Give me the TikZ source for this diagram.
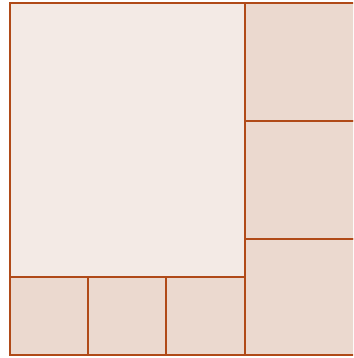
\documentclass[tikz,border=0pt]{standalone}
\definecolor{tileline}{HTML}{B04A18}
\definecolor{bigfill}{HTML}{F3EAE5}
\definecolor{smallfill}{HTML}{EBD9CF}
\tikzset{
  tile/.style={draw=tileline, line width=1.4pt, fill=smallfill},
  bigtile/.style={tile, fill=bigfill}
}
\begin{document}
\begin{tikzpicture}[x=1pt,y=-1pt]
\useasboundingbox (0,0) rectangle (353,358);
\clip (0,0) rectangle (353,358);
% big square
\draw[bigtile] (10,3) rectangle (245,277);
% bottom row
\draw[tile] (10,277) rectangle (88,355);
\draw[tile] (88,277) rectangle (166,355);
\draw[tile] (166,277) rectangle (245,355);
% right column
\draw[tile] (245,3) rectangle (362,121);
\draw[tile] (245,121) rectangle (362,239);
\draw[tile] (245,239) rectangle (362,355);
\end{tikzpicture}
\end{document}
